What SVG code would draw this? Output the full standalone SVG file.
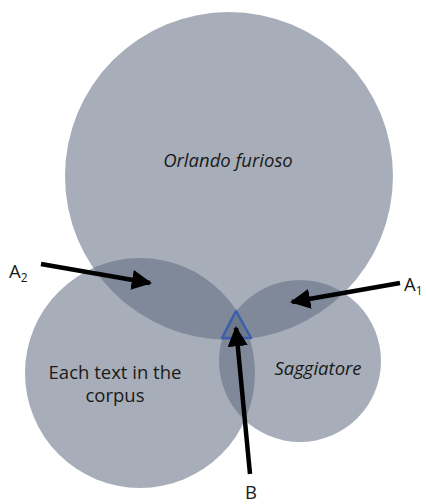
<svg xmlns="http://www.w3.org/2000/svg" width="427" height="504" viewBox="0 0 427 504">
<defs>
<style>
.set{fill:#5f6c80;fill-opacity:0.55}
.lbl{font-family:"Open Sans","Liberation Sans",sans-serif;font-size:18.5px;fill:#1a1a1a}
.it{font-style:italic}
.arr{stroke:#000;stroke-width:4.5;fill:none}
</style>
<marker id="ah" viewBox="0 0 10 10" refX="9" refY="5" markerWidth="4.5" markerHeight="4.5" orient="auto" markerUnits="strokeWidth">
<path d="M0,0 L10,5 L0,10 Z" fill="#000"/>
</marker>
</defs>
<rect width="427" height="504" fill="#fff"/>
<g id="orlando"><circle class="set" cx="229" cy="176" r="164"/><text class="lbl it" x="228" y="167" text-anchor="middle" font-size="20.5">Orlando furioso</text></g>
<g id="corpus"><circle class="set" cx="140" cy="373" r="115"/><text class="lbl" x="115" y="379" text-anchor="middle">Each text in the</text><text class="lbl" x="115" y="402" text-anchor="middle">corpus</text></g>
<g id="saggiatore"><circle class="set" cx="300" cy="361" r="81"/><text class="lbl it" x="318" y="375" text-anchor="middle" font-size="20.5">Saggiatore</text></g>
<g id="B-region"><path d="M236,311 L222,338 L251,338 Z" fill="none" stroke="#3b5fae" stroke-width="2.5" stroke-linejoin="round"/></g>
<g id="connectors">
<line class="arr" x1="41" y1="264" x2="150" y2="283" marker-end="url(#ah)"/>
<line class="arr" x1="400" y1="283" x2="292" y2="302" marker-end="url(#ah)"/>
<line class="arr" x1="250" y1="474" x2="236" y2="328" marker-end="url(#ah)"/>
</g>
<g id="labels">
<text class="lbl" x="9" y="278">A<tspan font-size="12" dy="4">2</tspan></text>
<text class="lbl" x="404" y="291">A<tspan font-size="12" dy="4">1</tspan></text>
<text class="lbl" x="251" y="499" text-anchor="middle" font-size="16">B</text>
</g>
</svg>
